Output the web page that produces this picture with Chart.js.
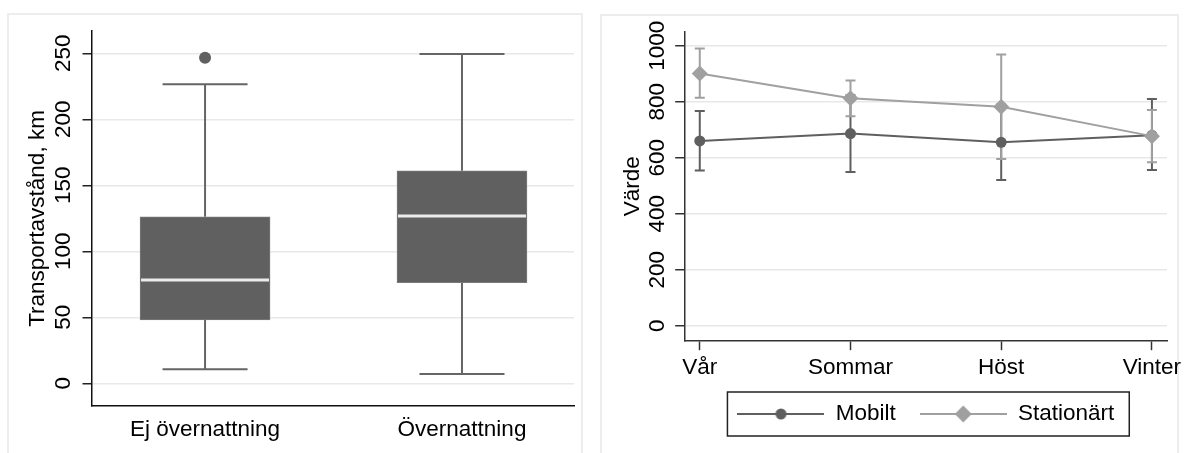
<!DOCTYPE html>
<html><head><meta charset="utf-8">
<script src="https://cdn.jsdelivr.net/npm/chart.js@4.4.1/dist/chart.umd.min.js"></script>
<style>
html,body{margin:0;padding:0;background:#fff;width:1184px;height:453px;overflow:hidden;}
.frame{position:absolute;border:2px solid #ededed;border-bottom:none;box-sizing:border-box;}
canvas{position:absolute;top:0;}
</style></head><body>
<div class="frame" style="left:7px;top:13px;width:576px;height:460px"></div>
<div class="frame" style="left:600px;top:14px;width:579px;height:460px"></div>
<canvas id="c1" width="592" height="453" style="left:0"></canvas>
<canvas id="c2" width="592" height="453" style="left:592px"></canvas>
<script>
// ---- data: box plot ----
const boxCategories = ['Ej övernattning', 'Övernattning'];
const boxPositions = [1, 2];
const whiskerLow = [10.6, 7.0];
const quartile1 = [48.0, 76.2];
const medians = [78.3, 126.7];
const quartile3 = [126.2, 161.0];
const whiskerHigh = [226.5, 249.5];
const outlierX = [1];
const outlierY = [246.7];
const boxTicks = [0, 50, 100, 150, 200, 250];

// ---- data: seasonal means with intervals ----
const seasons = ['Vår', 'Sommar', 'Höst', 'Vinter'];
const mobiltMean = [660, 686, 655, 680];
const mobiltLow = [554, 549, 520, 556];
const mobiltHigh = [767, 823, 790, 810];
const stationartMean = [901, 812, 782, 677];
const stationartLow = [814, 748, 595, 584];
const stationartHigh = [990, 876, 969, 770];
const valueTicks = [0, 200, 400, 600, 800, 1000];

const FAMILY = '"Liberation Sans", Arial, Helvetica, sans-serif';
Chart.defaults.font.family = FAMILY;
Chart.defaults.font.size = 22.5;
Chart.defaults.color = '#000';

const BOX = '#606060';
const MOB = '#5f5f5f';
const STA = '#a0a0a0';

// whiskers + median drawn from the data through the chart scales
const boxPlugin = {
  id: 'boxParts',
  beforeDatasetsDraw(chart) {
    const ctx = chart.ctx, ys = chart.scales.y;
    const meta = chart.getDatasetMeta(0);
    ctx.save();
    ctx.strokeStyle = '#656565';
    ctx.lineWidth = 2;
    meta.data.forEach((bar, i) => {
      const cx = bar.x, half = bar.width * 0.327;
      const yl = ys.getPixelForValue(whiskerLow[i]);
      const y1 = ys.getPixelForValue(quartile1[i]);
      const y3 = ys.getPixelForValue(quartile3[i]);
      const yh = ys.getPixelForValue(whiskerHigh[i]);
      ctx.beginPath();
      ctx.moveTo(cx, y1); ctx.lineTo(cx, yl);
      ctx.moveTo(cx - half, yl); ctx.lineTo(cx + half, yl);
      ctx.moveTo(cx, y3); ctx.lineTo(cx, yh);
      ctx.moveTo(cx - half, yh); ctx.lineTo(cx + half, yh);
      ctx.stroke();
    });
    ctx.restore();
  },
  afterDatasetsDraw(chart) {
    const ctx = chart.ctx, ys = chart.scales.y;
    const meta = chart.getDatasetMeta(0);
    ctx.save();
    ctx.strokeStyle = '#ececec';
    ctx.lineWidth = 3;
    meta.data.forEach((bar, i) => {
      const y = ys.getPixelForValue(medians[i]);
      ctx.beginPath();
      ctx.moveTo(bar.x - bar.width / 2 + 1, y);
      ctx.lineTo(bar.x + bar.width / 2 - 1, y);
      ctx.stroke();
    });
    ctx.restore();
  }
};

new Chart(document.getElementById('c1'), {
  type: 'bar',
  data: {
    datasets: [
      {
        type: 'bar',
        data: boxPositions.map((p, i) => ({x: p, y: [quartile1[i], quartile3[i]]})),
        backgroundColor: BOX,
        borderColor: '#7a7a7a',
        borderWidth: 1,
        borderSkipped: false,
        barThickness: 130
      },
      {
        type: 'scatter',
        data: outlierX.map((x, i) => ({x: x, y: outlierY[i]})),
        pointRadius: 6,
        pointBackgroundColor: BOX,
        pointBorderWidth: 0
      }
    ]
  },
  options: {
    responsive: false, animation: false, events: [],
    layout: {padding: {left: 0, top: 31, right: 18, bottom: 0}},
    plugins: {legend: {display: false}, tooltip: {enabled: false}},
    scales: {
      x: {
        type: 'linear', min: 0.56, max: 2.436, offset: false,
        grid: {display: false, drawTicks: false, offset: false},
        border: {display: true, color: '#111', width: 1.5},
        ticks: {padding: 10.4, autoSkip: false, maxRotation: 0,
          callback: v => { const k = boxPositions.indexOf(v); return k >= 0 ? boxCategories[k] : ''; }},
        afterBuildTicks: s => { s.ticks = boxPositions.map(v => ({value: v})); },
        afterFit: s => { s.height = 47; s.paddingLeft = 0; s.paddingRight = 0; }
      },
      y: {
        min: -17.2, max: 266.9,
        grid: {color: '#e8e8e8', lineWidth: 1.5, tickColor: '#222', tickLength: 9.5, tickWidth: 1.5},
        border: {display: true, color: '#111', width: 1.5},
        ticks: {minRotation: 90, maxRotation: 90, crossAlign: 'center', padding: 0, autoSkip: false,
          callback: v => String(v)},
        afterBuildTicks: s => { s.ticks = boxTicks.map(v => ({value: v})); },
        title: {display: true, text: 'Transportavstånd, km', padding: {top: 24.7, bottom: 0}},
        afterFit: s => { s.width = 92; s.paddingTop = 0; s.paddingBottom = 0; }
      }
    }
  },
  plugins: [boxPlugin]
});

// legend symbols: line with marker
function legendSymbol(color, shape) {
  const c = document.createElement('canvas');
  c.width = 87; c.height = 20;
  const g = c.getContext('2d');
  g.strokeStyle = color; g.lineWidth = 2;
  g.beginPath(); g.moveTo(0, 10); g.lineTo(87, 10); g.stroke();
  g.fillStyle = color;
  g.beginPath();
  if (shape === 'circle') {
    g.arc(43.5, 10, 5.5, 0, Math.PI * 2);
  } else {
    g.moveTo(35, 10); g.lineTo(43.5, 1.5); g.lineTo(52, 10); g.lineTo(43.5, 18.5); g.closePath();
  }
  g.fill();
  return c;
}
const legendImgs = [legendSymbol(MOB, 'circle'), legendSymbol(STA, 'diamond')];

const errorBarPlugin = {
  id: 'errorBars',
  beforeDatasetsDraw(chart) {
    const ctx = chart.ctx, xs = chart.scales.x, ys = chart.scales.y;
    const sets = [[mobiltLow, mobiltHigh, MOB], [stationartLow, stationartHigh, STA]];
    ctx.save();
    ctx.lineWidth = 2;
    sets.forEach(([lo, hi, col]) => {
      ctx.strokeStyle = col;
      ctx.beginPath();
      seasons.forEach((s, i) => {
        const x = xs.getPixelForValue(i);
        const y1 = ys.getPixelForValue(lo[i]);
        const y2 = ys.getPixelForValue(hi[i]);
        ctx.moveTo(x, y1); ctx.lineTo(x, y2);
        ctx.moveTo(x - 5, y1); ctx.lineTo(x + 5, y1);
        ctx.moveTo(x - 5, y2); ctx.lineTo(x + 5, y2);
      });
      ctx.stroke();
    });
    ctx.restore();
  }
};

const legendFramePlugin = {
  id: 'legendFrame',
  afterDraw(chart) {
    const hb = chart.legend && chart.legend.legendHitBoxes;
    if (!hb || !hb.length) return;
    const first = hb[0], last = hb[hb.length - 1];
    const cy = first.top + first.height / 2;
    const ctx = chart.ctx;
    ctx.save();
    ctx.strokeStyle = '#222';
    ctx.lineWidth = 1.5;
    ctx.strokeRect(first.left - 10, cy - 22, last.left + last.width - first.left + 25, 44);
    ctx.restore();
  }
};

new Chart(document.getElementById('c2'), {
  type: 'line',
  data: {
    datasets: [
      {
        label: 'Mobilt',
        data: seasons.map((s, i) => ({x: i, y: mobiltMean[i]})),
        borderColor: MOB, backgroundColor: MOB, borderWidth: 2, tension: 0,
        pointRadius: 5.5, pointBackgroundColor: MOB, pointBorderWidth: 0, order: 1
      },
      {
        label: 'Stationärt',
        data: seasons.map((s, i) => ({x: i, y: stationartMean[i]})),
        borderColor: STA, backgroundColor: STA, borderWidth: 2, tension: 0,
        pointStyle: 'rectRot', pointRadius: 8, pointBackgroundColor: STA, pointBorderWidth: 0, order: 0
      }
    ]
  },
  options: {
    responsive: false, animation: false, events: [],
    layout: {padding: {left: 0, top: 31.7, right: 17, bottom: 17.75}},
    plugins: {
      tooltip: {enabled: false},
      legend: {
        position: 'bottom', fullSize: false,
        labels: {
          usePointStyle: true, pointStyleWidth: 87, padding: 24, color: '#000',
          font: {size: 22.5},
          generateLabels: chart => chart.data.datasets.map((d, i) => ({
            text: d.label, pointStyle: legendImgs[i], fillStyle: d.borderColor,
            strokeStyle: d.borderColor, lineWidth: 0, hidden: false, datasetIndex: i
          }))
        }
      }
    },
    scales: {
      x: {
        type: 'linear', min: -0.1, max: 3.1,
        grid: {drawOnChartArea: false, drawTicks: true, tickLength: 9.5, tickColor: '#333', tickWidth: 1.5},
        border: {display: true, color: '#333', width: 1.5},
        ticks: {padding: 4.5, autoSkip: false, maxRotation: 0, callback: v => seasons[v]},
        afterBuildTicks: s => { s.ticks = seasons.map((_, i) => ({value: i})); },
        afterFit: s => { s.height = 38.05; s.paddingLeft = 0; s.paddingRight = 0; }
      },
      y: {
        min: -53.6, max: 1050,
        grid: {color: '#e8e8e8', lineWidth: 1.5, tickColor: '#333', tickLength: 9.5, tickWidth: 1.5},
        border: {display: true, color: '#333', width: 1.5},
        ticks: {minRotation: 90, maxRotation: 90, crossAlign: 'center', padding: -7.3, autoSkip: false,
          callback: v => String(v)},
        afterBuildTicks: s => { s.ticks = valueTicks.map(v => ({value: v})); },
        title: {display: true, text: 'Värde', padding: {top: 27, bottom: 0}},
        afterFit: s => { s.width = 92.7; s.paddingTop = 0; s.paddingBottom = 0; }
      }
    }
  },
  plugins: [errorBarPlugin, legendFramePlugin]
});
</script>
</body></html>
